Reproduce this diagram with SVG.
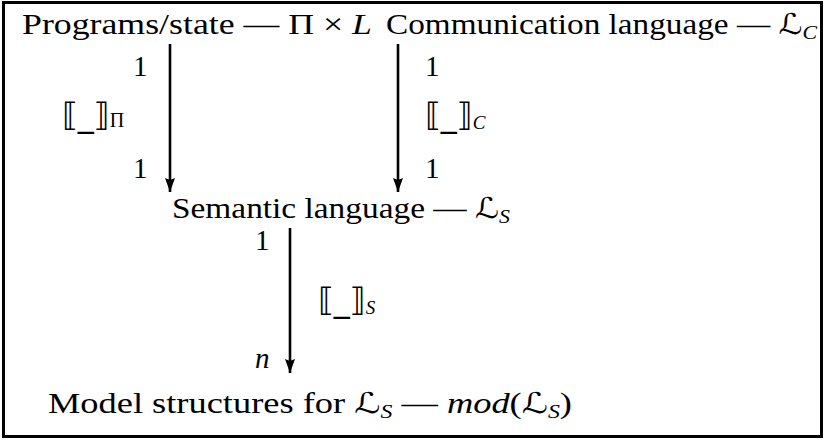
<svg xmlns="http://www.w3.org/2000/svg" width="825" height="441" viewBox="0 0 825 441">
<style>
text{font-family:"Liberation Serif","Times New Roman",serif;font-size:29px;fill:#000}
.it{font-style:italic}
.cal{font-family:"DejaVu Serif","DejaVu Sans",serif;font-style:italic}
.sub{font-size:19px;font-style:italic}
.sm{font-size:20px}
.br{font-family:"DejaVu Sans","DejaVu Serif",sans-serif;font-size:32px}
.arr{stroke:#000;stroke-width:2.6;fill:none;marker-end:url(#ah)}
</style>
<defs>
<marker id="ah" viewBox="0 0 14 10" refX="14" refY="5" markerWidth="14" markerHeight="10" markerUnits="userSpaceOnUse" orient="auto">
<path d="M0,0 L2,5 L0,10 L14,5 Z" fill="#000"/>
</marker>
</defs>
<rect x="3.5" y="2.5" width="818" height="434" fill="#fff" stroke="#000" stroke-width="3"/>
<g id="connectors">
<line class="arr" x1="170" y1="44" x2="170" y2="192"/>
<line class="arr" x1="398" y1="44" x2="398" y2="192"/>
<line class="arr" x1="290" y1="228" x2="290" y2="373"/>
</g>
<g id="labels">
<text x="133" y="76">1</text>
<text x="133" y="178">1</text>
<text x="62" y="126"><tspan class="br">⟦_⟧</tspan><tspan class="sm" dy="1">Π</tspan></text>
<text x="425" y="76">1</text>
<text x="425" y="178">1</text>
<text x="425" y="126"><tspan class="br">⟦_⟧</tspan><tspan class="sub" dy="3">C</tspan></text>
<text x="255" y="250">1</text>
<text x="318" y="311"><tspan class="br">⟦_⟧</tspan><tspan class="sub" dy="3">S</tspan></text>
<text class="it" x="255" y="368">n</text>
</g>
<g id="node-programs">
<text x="22" y="34" textLength="350" lengthAdjust="spacingAndGlyphs">Programs/state — Π × <tspan class="it">L</tspan></text>
</g>
<g id="node-communication">
<text x="386" y="34" textLength="431" lengthAdjust="spacingAndGlyphs">Communication language — <tspan class="cal">ℒ</tspan><tspan class="sub" dy="5">C</tspan></text>
</g>
<g id="node-semantic">
<text x="172" y="218" textLength="338" lengthAdjust="spacingAndGlyphs">Semantic language — <tspan class="cal">ℒ</tspan><tspan class="sub" dy="5">S</tspan></text>
</g>
<g id="node-model">
<text x="48" y="413" textLength="524" lengthAdjust="spacingAndGlyphs">Model structures for <tspan class="cal">ℒ</tspan><tspan class="sub" dy="5">S</tspan><tspan dy="-5"> — </tspan><tspan class="it">mod</tspan>(<tspan class="cal">ℒ</tspan><tspan class="sub" dy="5">S</tspan><tspan dy="-5">)</tspan></text>
</g>
</svg>
